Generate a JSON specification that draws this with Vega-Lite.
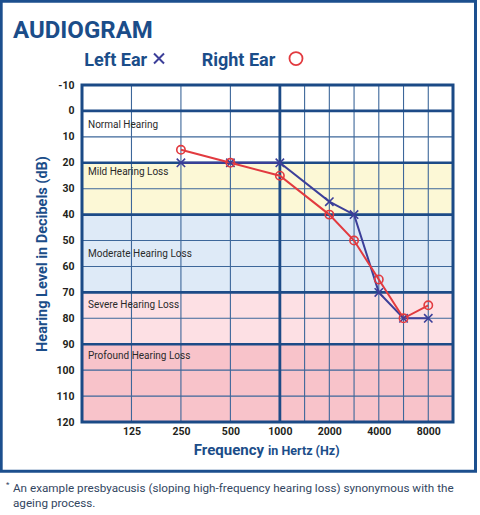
{
  "$schema": "https://vega.github.io/schema/vega-lite/v6.json",
  "width": 371,
  "height": 337,
  "autosize": {"type": "none"},
  "padding": {"left": 82, "top": 85, "right": 27, "bottom": 93},
  "background": "#ffffff",
  "datasets": {
    "hearing": [
      {"freq": 250, "ear": "Left Ear", "db": 20},
      {"freq": 500, "ear": "Left Ear", "db": 20},
      {"freq": 1000, "ear": "Left Ear", "db": 20},
      {"freq": 2000, "ear": "Left Ear", "db": 35},
      {"freq": 3000, "ear": "Left Ear", "db": 40},
      {"freq": 4000, "ear": "Left Ear", "db": 70},
      {"freq": 6000, "ear": "Left Ear", "db": 80},
      {"freq": 8000, "ear": "Left Ear", "db": 80},
      {"freq": 250, "ear": "Right Ear", "db": 15},
      {"freq": 500, "ear": "Right Ear", "db": 20},
      {"freq": 1000, "ear": "Right Ear", "db": 25},
      {"freq": 2000, "ear": "Right Ear", "db": 40},
      {"freq": 3000, "ear": "Right Ear", "db": 50},
      {"freq": 4000, "ear": "Right Ear", "db": 65},
      {"freq": 6000, "ear": "Right Ear", "db": 80},
      {"freq": 8000, "ear": "Right Ear", "db": 75}
    ],
    "zones": [
      {"zone": "Normal Hearing", "from": -10, "to": 20, "label_level": 5.4},
      {"zone": "Mild Hearing Loss", "from": 20, "to": 40, "label_level": 23.6},
      {"zone": "Moderate Hearing Loss", "from": 40, "to": 70, "label_level": 55.2},
      {"zone": "Severe Hearing Loss", "from": 70, "to": 90, "label_level": 74.9},
      {"zone": "Profound Hearing Loss", "from": 90, "to": 120, "label_level": 94.7}
    ],
    "hlines": [{"db": 10}, {"db": 30}, {"db": 50}, {"db": 60}, {"db": 80}, {"db": 100}, {"db": 110}],
    "vlines": [{"freq": 125}, {"freq": 250}, {"freq": 500}, {"freq": 1500}, {"freq": 2000}, {"freq": 3000}, {"freq": 4000}, {"freq": 6000}, {"freq": 8000}],
    "thick_h": [{"db": 0}, {"db": 20}, {"db": 40}, {"db": 70}, {"db": 90}],
    "thick_v": [{"freq": 1000}],
    "one": [{"id": 1}],
    "note": [{"text": "An example presbyacusis (sloping high-frequency hearing loss) synonymous with the\nageing process."}]
  },
  "resolve": {"axis": {"x": "independent", "y": "independent"}},
  "layer": [
    {
      "data": {"name": "zones"},
      "mark": {"type": "rect"},
      "encoding": {
        "y": {"field": "from", "type": "quantitative", "scale": {"domain": [-10, 120], "reverse": true, "nice": false, "zero": false},
          "axis": {"values": [-10, 0, 10, 20, 30, 40, 50, 60, 70, 80, 90, 100, 110, 120], "labelExpr": "'' + datum.value", "labelPadding": 8, "labelFlush": false, "title": "Hearing Level in Decibels (dB)", "titleFontSize": 14.5, "titlePadding": 6}},
        "y2": {"field": "to"},
        "fill": {"field": "zone", "type": "nominal", "legend": null,
          "scale": {"domain": ["Normal Hearing", "Mild Hearing Loss", "Moderate Hearing Loss", "Severe Hearing Loss", "Profound Hearing Loss"],
                    "range": ["#ffffff", "#fcf8d6", "#deeaf7", "#fde0e4", "#f8c3ca"]}}
      }
    },
    {
      "data": {"name": "hlines"},
      "mark": {"type": "rule", "color": "#3d679a", "strokeWidth": 1.1},
      "encoding": {"y": {"field": "db", "type": "quantitative", "scale": {"domain": [-10, 120], "reverse": true, "nice": false, "zero": false}, "axis": null}}
    },
    {
      "data": {"name": "vlines"},
      "mark": {"type": "rule", "color": "#3d679a", "strokeWidth": 1.1},
      "encoding": {"x": {"field": "freq", "type": "quantitative",
        "scale": {"type": "linear", "domain": [62.5, 125, 250, 500, 1000, 2000, 4000, 8000, 12000], "range": [0, 49.47, 98.93, 148.4, 197.87, 247.33, 296.8, 346.27, 371], "nice": false, "zero": false},
        "axis": {"values": [125, 250, 500, 1000, 2000, 4000, 8000], "format": "d", "labelPadding": 4, "title": null}}}
    },
    {
      "data": {"name": "thick_h"},
      "mark": {"type": "rule", "color": "#1d4b87", "strokeWidth": 2.6},
      "encoding": {"y": {"field": "db", "type": "quantitative", "scale": {"domain": [-10, 120], "reverse": true, "nice": false, "zero": false}, "axis": null}}
    },
    {
      "data": {"name": "thick_v"},
      "mark": {"type": "rule", "color": "#1d4b87", "strokeWidth": 2.8},
      "encoding": {"x": {"field": "freq", "type": "quantitative",
        "scale": {"type": "linear", "domain": [62.5, 125, 250, 500, 1000, 2000, 4000, 8000, 12000], "range": [0, 49.47, 98.93, 148.4, 197.87, 247.33, 296.8, 346.27, 371], "nice": false, "zero": false}, "axis": null}}
    },
    {
      "data": {"name": "zones"},
      "mark": {"type": "text", "align": "left", "baseline": "middle", "dx": 6, "font": "Roboto", "fontSize": 10, "color": "#2a2a2a"},
      "encoding": {
        "x": {"datum": 62.5, "type": "quantitative", "scale": {"type": "linear", "domain": [62.5, 125, 250, 500, 1000, 2000, 4000, 8000, 12000], "range": [0, 49.47, 98.93, 148.4, 197.87, 247.33, 296.8, 346.27, 371], "nice": false, "zero": false}, "axis": null},
        "y": {"field": "label_level", "type": "quantitative", "scale": {"domain": [-10, 120], "reverse": true, "nice": false, "zero": false}, "axis": null},
        "text": {"field": "zone"}
      }
    },
    {
      "data": {"name": "hearing"},
      "mark": {"type": "line", "strokeWidth": 2},
      "encoding": {
        "x": {"field": "freq", "type": "quantitative", "scale": {"type": "linear", "domain": [62.5, 125, 250, 500, 1000, 2000, 4000, 8000, 12000], "range": [0, 49.47, 98.93, 148.4, 197.87, 247.33, 296.8, 346.27, 371], "nice": false, "zero": false}, "axis": null},
        "y": {"field": "db", "type": "quantitative", "scale": {"domain": [-10, 120], "reverse": true, "nice": false, "zero": false}, "axis": null},
        "color": {"field": "ear", "type": "nominal", "scale": {"domain": ["Left Ear", "Right Ear"], "range": ["#3c3f99", "#e23a3f"]}, "legend": null}
      }
    },
    {
      "data": {"name": "hearing"},
      "mark": {"type": "point", "filled": false, "strokeWidth": 1.6, "size": 70, "opacity": 1},
      "encoding": {
        "x": {"field": "freq", "type": "quantitative", "scale": {"type": "linear", "domain": [62.5, 125, 250, 500, 1000, 2000, 4000, 8000, 12000], "range": [0, 49.47, 98.93, 148.4, 197.87, 247.33, 296.8, 346.27, 371], "nice": false, "zero": false}, "axis": null},
        "y": {"field": "db", "type": "quantitative", "scale": {"domain": [-10, 120], "reverse": true, "nice": false, "zero": false}, "axis": null},
        "color": {"field": "ear", "type": "nominal", "scale": {"domain": ["Left Ear", "Right Ear"], "range": ["#3c3f99", "#e23a3f"]}, "legend": null},
        "shape": {"field": "ear", "type": "nominal", "scale": {"domain": ["Left Ear", "Right Ear"], "range": ["M-1,-1L1,1M-1,1L1,-1", "circle"]}, "legend": null}
      }
    },
    {
      "data": {"name": "one"},
      "mark": {"type": "rect", "fill": "transparent", "stroke": "#1b4a86", "strokeWidth": 3},
      "encoding": {
        "x": {"datum": 62.5, "type": "quantitative", "scale": {"type": "linear", "domain": [62.5, 125, 250, 500, 1000, 2000, 4000, 8000, 12000], "range": [0, 49.47, 98.93, 148.4, 197.87, 247.33, 296.8, 346.27, 371], "nice": false, "zero": false}, "axis": null},
        "x2": {"datum": 12000},
        "y": {"datum": -10, "type": "quantitative", "scale": {"domain": [-10, 120], "reverse": true, "nice": false, "zero": false}, "axis": null},
        "y2": {"datum": 120}
      }
    },
    {
      "data": {"name": "one"},
      "mark": {"type": "rect", "fill": "transparent", "stroke": "#1c4f8e", "strokeWidth": 3, "clip": false},
      "encoding": {
        "x": {"datum": -39.6, "type": "quantitative", "scale": {"type": "linear", "domain": [62.5, 125, 250, 500, 1000, 2000, 4000, 8000, 12000], "range": [0, 49.47, 98.93, 148.4, 197.87, 247.33, 296.8, 346.27, 371], "nice": false, "zero": false}, "axis": null},
        "x2": {"datum": 15640},
        "y": {"datum": -42.3, "type": "quantitative", "scale": {"domain": [-10, 120], "reverse": true, "nice": false, "zero": false}, "axis": null},
        "y2": {"datum": 139}
      }
    },
    {
      "data": {"name": "one"},
      "mark": {"type": "text", "text": "AUDIOGRAM", "align": "left", "baseline": "alphabetic", "dx": -69, "font": "Roboto", "fontSize": 24, "fontWeight": "bold", "color": "#1b4d89"},
      "encoding": {
        "x": {"datum": 62.5, "type": "quantitative", "scale": {"type": "linear", "domain": [62.5, 125, 250, 500, 1000, 2000, 4000, 8000, 12000], "range": [0, 49.47, 98.93, 148.4, 197.87, 247.33, 296.8, 346.27, 371], "nice": false, "zero": false}, "axis": null},
        "y": {"datum": -28.3, "type": "quantitative", "scale": {"domain": [-10, 120], "reverse": true, "nice": false, "zero": false}, "axis": null}
      }
    },
    {
      "data": {"name": "one"},
      "mark": {"type": "text", "text": "Left Ear", "align": "left", "baseline": "alphabetic", "dx": 2.3, "font": "Roboto", "fontSize": 18, "fontWeight": "bold", "color": "#1b4d89"},
      "encoding": {
        "x": {"datum": 62.5, "type": "quantitative", "scale": {"type": "linear", "domain": [62.5, 125, 250, 500, 1000, 2000, 4000, 8000, 12000], "range": [0, 49.47, 98.93, 148.4, 197.87, 247.33, 296.8, 346.27, 371], "nice": false, "zero": false}, "axis": null},
        "y": {"datum": -17.45, "type": "quantitative", "scale": {"domain": [-10, 120], "reverse": true, "nice": false, "zero": false}, "axis": null}
      }
    },
    {
      "data": {"name": "one"},
      "mark": {"type": "text", "text": "Right Ear", "align": "left", "baseline": "alphabetic", "font": "Roboto", "fontSize": 18, "fontWeight": "bold", "color": "#1b4d89"},
      "encoding": {
        "x": {"datum": 355, "type": "quantitative", "scale": {"type": "linear", "domain": [62.5, 125, 250, 500, 1000, 2000, 4000, 8000, 12000], "range": [0, 49.47, 98.93, 148.4, 197.87, 247.33, 296.8, 346.27, 371], "nice": false, "zero": false}, "axis": null},
        "y": {"datum": -17.45, "type": "quantitative", "scale": {"domain": [-10, 120], "reverse": true, "nice": false, "zero": false}, "axis": null}
      }
    },
    {
      "data": {"name": "one"},
      "mark": {"type": "point", "shape": "M-1,-1L1,1M-1,1L1,-1", "filled": false, "size": 100, "strokeWidth": 2, "color": "#3c3f99", "opacity": 1},
      "encoding": {
        "x": {"datum": 194.6, "type": "quantitative", "scale": {"type": "linear", "domain": [62.5, 125, 250, 500, 1000, 2000, 4000, 8000, 12000], "range": [0, 49.47, 98.93, 148.4, 197.87, 247.33, 296.8, 346.27, 371], "nice": false, "zero": false}, "axis": null},
        "y": {"datum": -20.2, "type": "quantitative", "scale": {"domain": [-10, 120], "reverse": true, "nice": false, "zero": false}, "axis": null}
      }
    },
    {
      "data": {"name": "one"},
      "mark": {"type": "point", "shape": "circle", "filled": false, "size": 170, "strokeWidth": 1.8, "color": "#e23a3f", "opacity": 1},
      "encoding": {
        "x": {"datum": 1326, "type": "quantitative", "scale": {"type": "linear", "domain": [62.5, 125, 250, 500, 1000, 2000, 4000, 8000, 12000], "range": [0, 49.47, 98.93, 148.4, 197.87, 247.33, 296.8, 346.27, 371], "nice": false, "zero": false}, "axis": null},
        "y": {"datum": -20.2, "type": "quantitative", "scale": {"domain": [-10, 120], "reverse": true, "nice": false, "zero": false}, "axis": null}
      }
    },
    {
      "data": {"name": "one"},
      "mark": {"type": "text", "text": "Frequency", "align": "right", "baseline": "alphabetic", "dx": -2, "font": "Roboto", "fontSize": 15, "fontWeight": "bold", "color": "#1b4d89"},
      "encoding": {
        "x": {"datum": 860, "type": "quantitative", "scale": {"type": "linear", "domain": [62.5, 125, 250, 500, 1000, 2000, 4000, 8000, 12000], "range": [0, 49.47, 98.93, 148.4, 197.87, 247.33, 296.8, 346.27, 371], "nice": false, "zero": false}, "axis": null},
        "y": {"datum": 132.7, "type": "quantitative", "scale": {"domain": [-10, 120], "reverse": true, "nice": false, "zero": false}, "axis": null}
      }
    },
    {
      "data": {"name": "one"},
      "mark": {"type": "text", "text": "in Hertz (Hz)", "align": "left", "baseline": "alphabetic", "dx": 2, "font": "Roboto", "fontSize": 12.5, "fontWeight": "bold", "color": "#1b4d89"},
      "encoding": {
        "x": {"datum": 860, "type": "quantitative", "scale": {"type": "linear", "domain": [62.5, 125, 250, 500, 1000, 2000, 4000, 8000, 12000], "range": [0, 49.47, 98.93, 148.4, 197.87, 247.33, 296.8, 346.27, 371], "nice": false, "zero": false}, "axis": null},
        "y": {"datum": 132.7, "type": "quantitative", "scale": {"domain": [-10, 120], "reverse": true, "nice": false, "zero": false}, "axis": null}
      }
    },
    {
      "data": {"name": "note"},
      "mark": {"type": "text", "align": "left", "baseline": "alphabetic", "lineBreak": "\n", "lineHeight": 15, "dx": -69, "font": "Roboto", "fontSize": 11.7, "color": "#33465f"},
      "encoding": {
        "x": {"datum": 62.5, "type": "quantitative", "scale": {"type": "linear", "domain": [62.5, 125, 250, 500, 1000, 2000, 4000, 8000, 12000], "range": [0, 49.47, 98.93, 148.4, 197.87, 247.33, 296.8, 346.27, 371], "nice": false, "zero": false}, "axis": null},
        "y": {"datum": 147, "type": "quantitative", "scale": {"domain": [-10, 120], "reverse": true, "nice": false, "zero": false}, "axis": null},
        "text": {"field": "text"}
      }
    },
    {
      "data": {"name": "one"},
      "mark": {"type": "text", "text": "*", "align": "left", "baseline": "alphabetic", "dx": -76, "dy": -5, "font": "Roboto", "fontSize": 8, "color": "#33465f"},
      "encoding": {
        "x": {"datum": 62.5, "type": "quantitative", "scale": {"type": "linear", "domain": [62.5, 125, 250, 500, 1000, 2000, 4000, 8000, 12000], "range": [0, 49.47, 98.93, 148.4, 197.87, 247.33, 296.8, 346.27, 371], "nice": false, "zero": false}, "axis": null},
        "y": {"datum": 147, "type": "quantitative", "scale": {"domain": [-10, 120], "reverse": true, "nice": false, "zero": false}, "axis": null}
      }
    }
  ],
  "config": {
    "view": {"stroke": null},
    "axis": {"grid": false, "domain": false, "ticks": false, "labelFont": "Roboto", "labelFontWeight": "bold", "labelFontSize": 10.5, "labelColor": "#231f20", "titleFont": "Roboto", "titleFontWeight": "bold", "titleColor": "#1b4d89"}
  }
}
